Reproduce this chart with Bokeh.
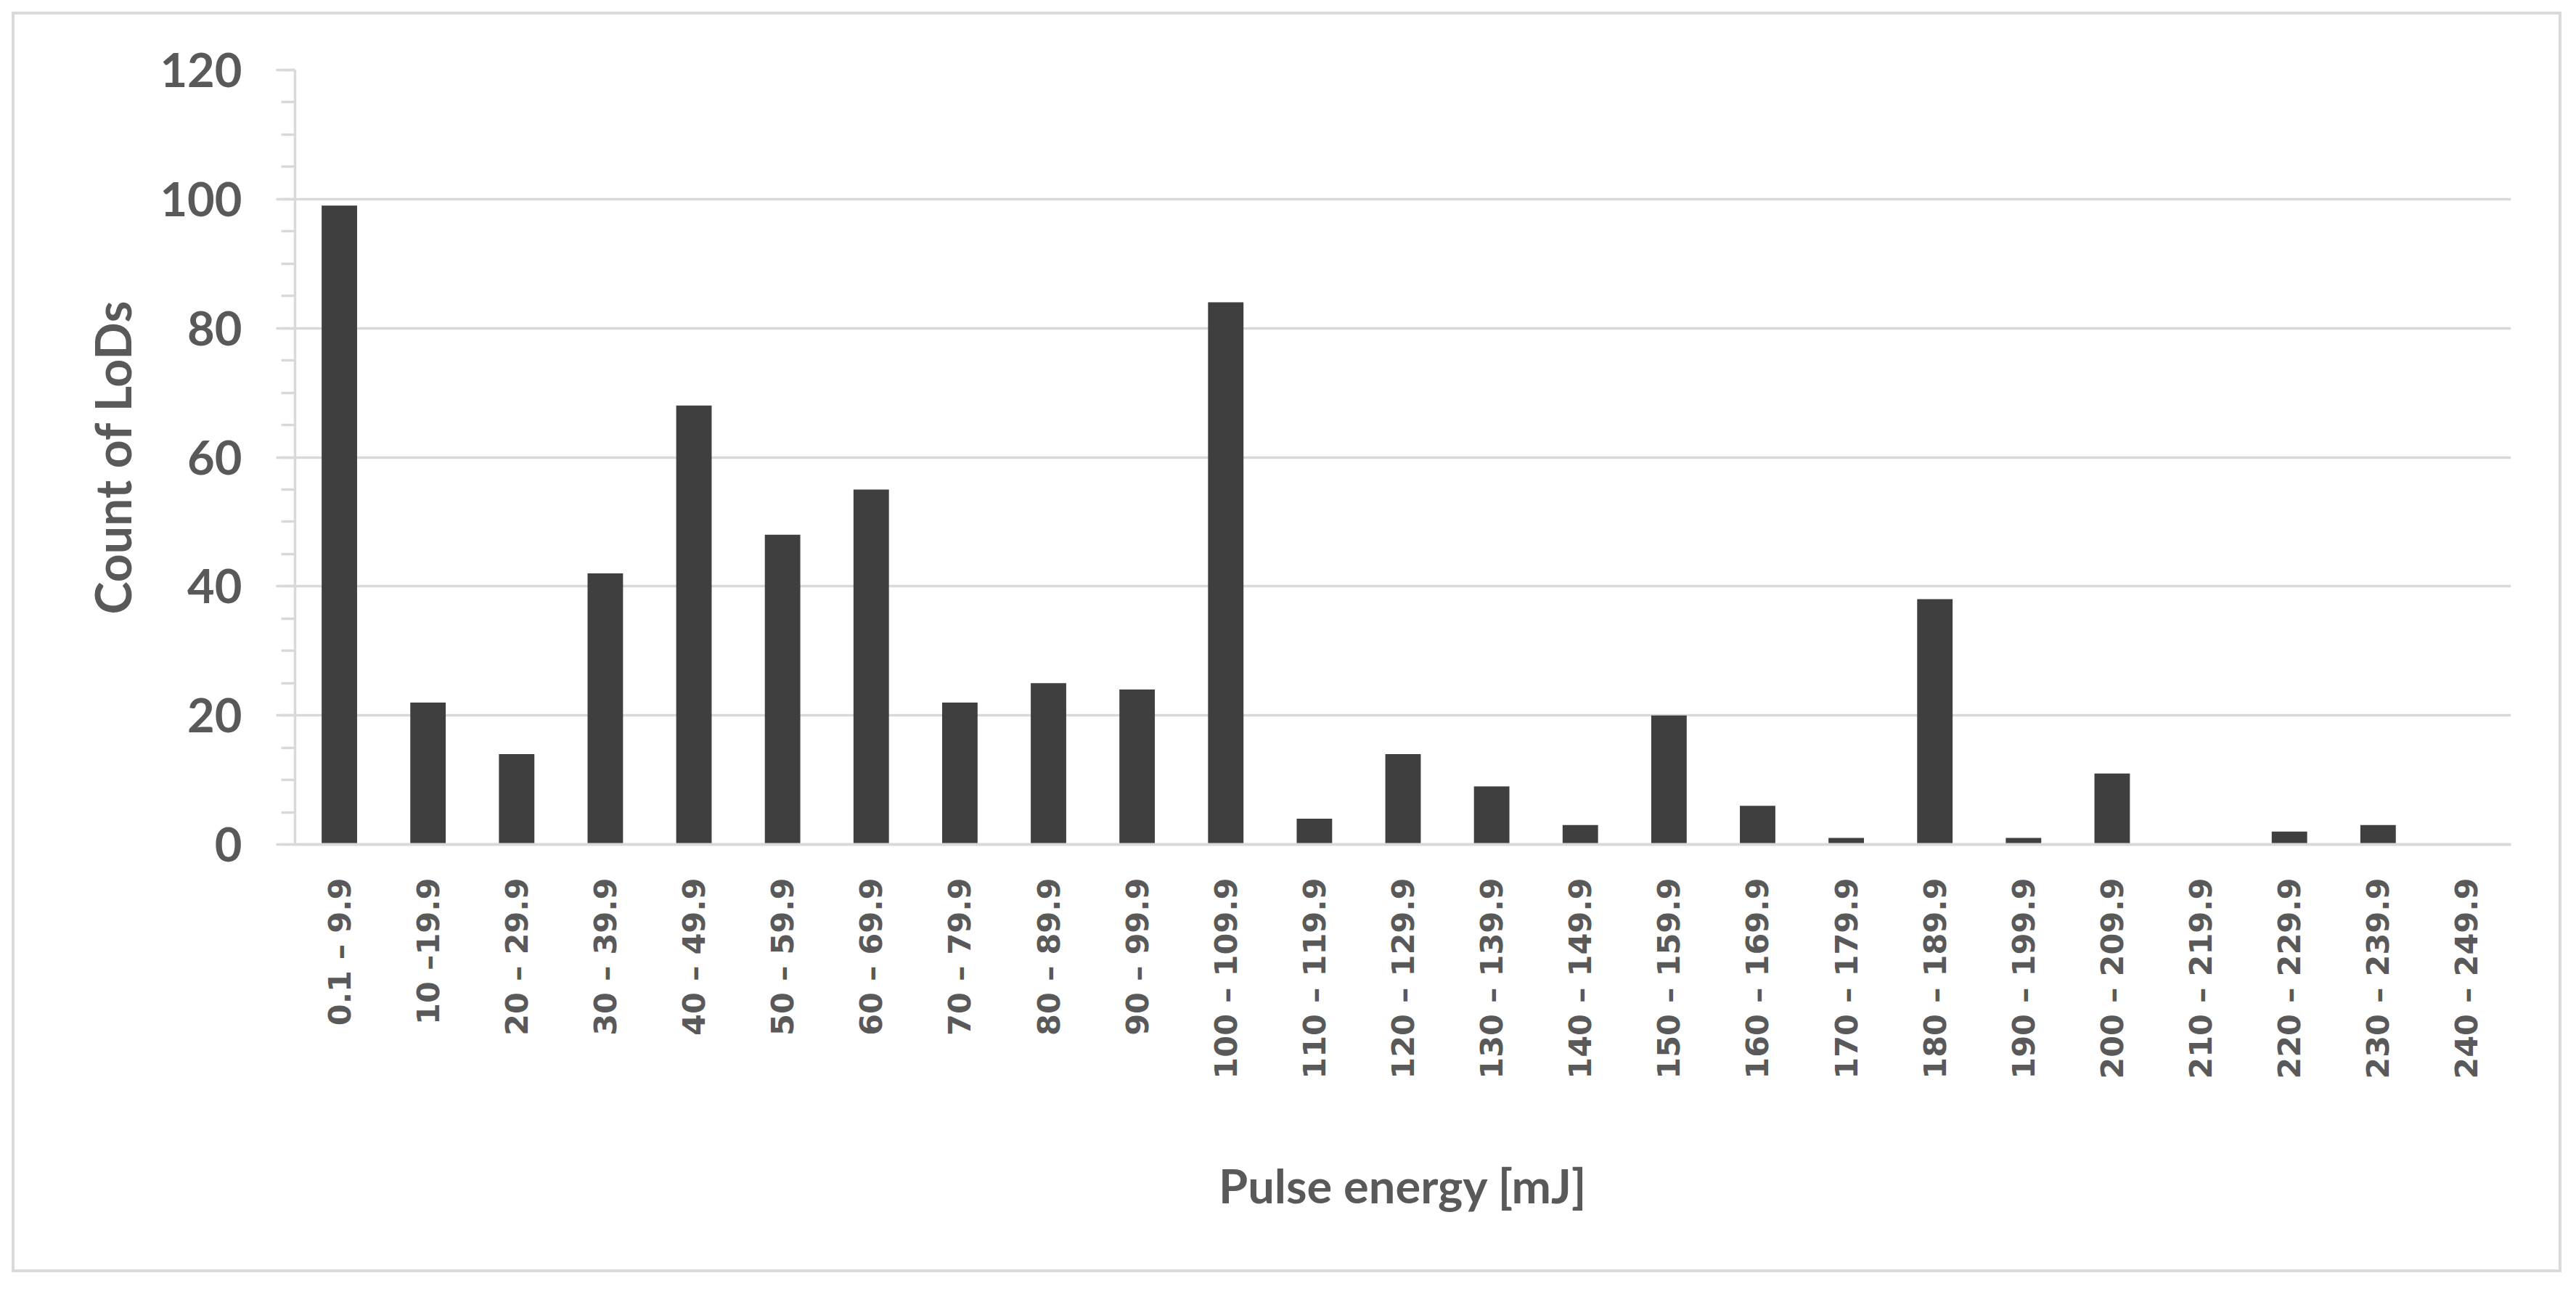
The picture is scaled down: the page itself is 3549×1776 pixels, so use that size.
import math
from bokeh.plotting import figure
from bokeh.models import FactorRange, Range1d, SingleIntervalTicker
from bokeh.embed import file_html
from bokeh.resources import INLINE

categories = ["0.1 – 9.9", "10 –19.9", "20 – 29.9", "30 – 39.9", "40 – 49.9",
              "50 – 59.9", "60 – 69.9", "70 – 79.9", "80 – 89.9", "90 – 99.9",
              "100 – 109.9", "110 – 119.9", "120 – 129.9", "130 – 139.9",
              "140 – 149.9", "150 – 159.9", "160 – 169.9", "170 – 179.9",
              "180 – 189.9", "190 – 199.9", "200 – 209.9", "210 – 219.9",
              "220 – 229.9", "230 – 239.9", "240 – 249.9"]
counts = [99, 22, 14, 42, 68, 48, 55, 22, 25, 24, 84, 4, 14, 9, 3, 20, 6, 1,
          38, 1, 11, 0, 2, 3, 0]
y_min, y_max, y_step = 0, 120, 20

GRID = "#d9d9d9"
TEXT = "#595959"
BAR = "#3f3f3f"

# canvas placed at page (20, 20) inside a 4px CSS border starting at 16px
OX, OY = 20, 20
W, H = 3513, 1737
p = figure(width=W, height=H,
           x_range=FactorRange(*categories, range_padding=0),
           y_range=Range1d(y_min, y_max),
           output_backend="svg", toolbar_location=None,
           min_border_left=406 - OX, min_border_right=W - (3459 - OX),
           min_border_top=96 - OY, min_border_bottom=H - (1163 - OY))
p.styles = {"border": "4px solid #dadada", "margin": "16px 0px 0px 16px"}

p.vbar(x=categories, top=counts, width=0.4, fill_color=BAR, line_color=None)

p.outline_line_color = None
p.xgrid.grid_line_color = None
p.ygrid.grid_line_color = GRID
p.ygrid.grid_line_width = 3.5

p.yaxis.ticker = SingleIntervalTicker(interval=y_step, num_minor_ticks=4)
p.yaxis.axis_line_color = GRID
p.yaxis.axis_line_width = 3.5
p.yaxis.major_tick_line_color = GRID
p.yaxis.major_tick_line_width = 3.5
p.yaxis.major_tick_out = 26
p.yaxis.major_tick_in = 0
p.yaxis.minor_tick_line_color = GRID
p.yaxis.minor_tick_line_width = 3.5
p.yaxis.minor_tick_out = 19
p.yaxis.minor_tick_in = 0
p.yaxis.major_label_text_font = "Lato"
p.yaxis.major_label_text_font_style = "bold"
p.yaxis.major_label_text_font_size = "65px"
p.yaxis.major_label_text_color = TEXT
p.yaxis.major_label_standoff = 47
p.yaxis.axis_label = "Count of LoDs"
p.yaxis.axis_label_text_font = "Lato"
p.yaxis.axis_label_text_font_style = "bold"
p.yaxis.axis_label_text_font_size = "68px"
p.yaxis.axis_label_text_color = TEXT
p.yaxis.axis_label_standoff = 22

p.xaxis.axis_line_color = GRID
p.xaxis.axis_line_width = 4
p.xaxis.major_tick_line_color = None
p.xaxis.minor_tick_line_color = None
p.xaxis.major_label_orientation = math.pi / 2
p.xaxis.major_label_text_font = "DejaVu Sans"
p.xaxis.major_label_text_font_style = "bold"
p.xaxis.major_label_text_font_size = "43px"
p.xaxis.major_label_text_color = TEXT
p.xaxis.major_label_standoff = 40
p.xaxis.axis_label = "Pulse energy [mJ]"
p.xaxis.axis_label_text_font = "Lato"
p.xaxis.axis_label_text_font_style = "bold"
p.xaxis.axis_label_text_font_size = "65px"
p.xaxis.axis_label_text_color = TEXT
p.xaxis.axis_label_standoff = 104

open("out.html", "w").write(file_html(p, INLINE))
